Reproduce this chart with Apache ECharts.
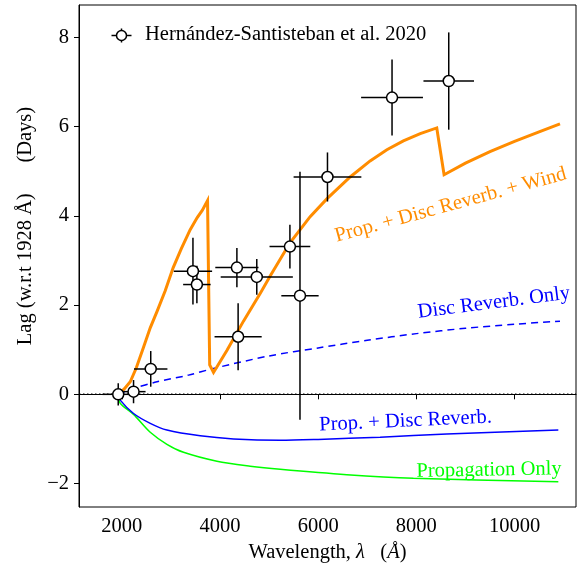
<!DOCTYPE html>
<html>
<head>
<meta charset="utf-8">
<script src="https://cdn.jsdelivr.net/npm/echarts@6/dist/echarts.min.js"></script>
<style>
  html, body { margin: 0; padding: 0; background: #ffffff; }
  #chart { width: 587px; height: 569px; }
</style>
</head>
<body>
<div id="chart"></div>
<script>
// Observed continuum lags (Hernández-Santisteban et al. 2020)
const obsWave    = [1928, 2240, 2590, 3450, 3530, 4345, 4750, 4370, 5425, 5630, 6190, 7505, 8660];
const obsLag     = [0.00, 0.06, 0.57, 2.76, 2.46, 2.84, 2.63, 1.29, 3.31, 2.21, 4.87, 6.65, 7.02];
const obsWaveErr = [320, 245, 340, 390, 280, 440, 735, 480, 415, 380, 690, 630, 515];
const obsLagErr  = [0.25, 0.26, 0.40, 0.75, 0.42, 0.44, 0.40, 0.75, 0.49, 2.78, 0.55, 0.85, 1.09];

// Model: propagation + disc reverberation + wind
const windWave = [1928, 2051, 2173, 2295, 2438, 2580, 2723, 2885, 3048, 3211, 3394, 3537, 3639, 3747,
                  3791, 3869, 4141, 4479, 4819, 5023, 5430, 5837, 6177, 6652, 7059, 7400, 7736, 8080, 8416,
                  8565, 9000, 9500, 10000, 10500, 10926];
const windLag  = [0.00, 0.12, 0.28, 0.59, 1.04, 1.49, 1.87, 2.32, 2.84, 3.26, 3.69, 3.96, 4.12, 4.34,
                  0.66, 0.49, 0.98, 1.64, 2.26, 2.65, 3.40, 3.98, 4.38, 4.87, 5.23, 5.48, 5.68, 5.84, 5.97,
                  4.92, 5.18, 5.44, 5.67, 5.88, 6.06];

// Model: disc reverberation only
const discWave = [1928, 2240, 2717, 3360, 3869, 5000, 6000, 7000, 8000, 9000, 10000, 10926];
const discLag  = [0.00, 0.13, 0.28, 0.43, 0.58, 0.86, 1.04, 1.21, 1.36, 1.48, 1.57, 1.64];

// Model: propagation + disc reverberation
const propDiscWave = [1928, 1969, 2240, 2580, 2920, 3598, 4276, 5226, 6000, 7262, 8620, 10892];
const propDiscLag  = [0.00, -0.13, -0.43, -0.65, -0.80, -0.93, -1.00, -1.03, -1.01, -0.96, -0.89, -0.80];

// Model: propagation only
const propWave = [1928, 1969, 2240, 2580, 2920, 3258, 3938, 4616, 5226, 6584, 7940, 10892];
const propLag  = [0.00, -0.20, -0.45, -0.85, -1.12, -1.30, -1.50, -1.61, -1.68, -1.80, -1.88, -1.96];

// Axis ticks
const xTicks = [2000, 4000, 6000, 8000, 10000];
const yTicks = [-2, 0, 2, 4, 6, 8];
const xRange = [1129, 11252];
const yRange = [-2.525, 8.724];

// Curve annotations: [wavelength, lag, angle in degrees]
const noteText  = ['Prop. + Disc Reverb. + Wind', 'Disc Reverb. Only', 'Prop. + Disc Reverb.', 'Propagation Only'];
const noteAt    = [[8700, 4.24, 15.3], [9580, 2.05, 7.2], [7781, -0.60, 2.7], [9481, -1.70, 1.0]];
const noteColor = ['#ff8c00', '#0000ff', '#0000ff', '#00ff00'];

const FONT = '"Liberation Serif", "Times New Roman", serif';
const FS = 20.5;

const zip = (xs, ys) => xs.map((x, i) => [x, ys[i]]);

const chart = echarts.init(document.getElementById('chart'), null, { renderer: 'canvas' });

const option = {
  animation: false,
  backgroundColor: '#ffffff',
  grid: { left: 79, top: 5, right: 11, bottom: 62, show: true, borderColor: '#000', borderWidth: 1, backgroundColor: 'transparent' },
  xAxis: {
    type: 'value', min: xRange[0], max: xRange[1],
    axisLine: { lineStyle: { color: '#000', width: 1 } },
    axisTick: { customValues: xTicks, length: 5, lineStyle: { color: '#000', width: 1 } },
    axisLabel: { customValues: xTicks, color: '#000', fontFamily: FONT, fontSize: FS, margin: 9, formatter: v => String(v) },
    splitLine: { show: false },
    name: '{n|Wavelength, }{i|λ}{n|   (}{i|Å}{n|)}',
    nameLocation: 'middle', nameGap: 44,
    nameTextStyle: {
      verticalAlign: 'middle',
      rich: {
        n: { fontFamily: FONT, fontSize: FS, color: '#000' },
        i: { fontFamily: FONT, fontSize: FS, fontStyle: 'italic', color: '#000' }
      }
    }
  },
  yAxis: {
    type: 'value', min: yRange[0], max: yRange[1],
    axisLine: { lineStyle: { color: '#000', width: 1 } },
    axisTick: { customValues: yTicks, length: 5, lineStyle: { color: '#000', width: 1 } },
    axisLabel: {
      customValues: yTicks, color: '#000', fontFamily: FONT, fontSize: FS, margin: 10,
      formatter: v => (v < 0 ? '\u2212' + Math.abs(v) : String(v))
    },
    splitLine: { show: false },
    name: 'Lag (w.r.t 1928 Å)      (Days)',
    nameLocation: 'middle', nameGap: 52,
    nameTextStyle: { fontFamily: FONT, fontSize: FS, color: '#000', verticalAlign: 'middle', padding: [0, 0, 0, 60] }
  },
  series: [
    {
      type: 'line', name: 'zero', data: [[xRange[0], 0], [xRange[1], 0]],
      symbol: 'none', silent: true, z: 1,
      lineStyle: { color: '#000', width: 1.5, type: [1.5, 2.5] }
    },
    {
      type: 'line', name: 'Propagation Only', data: zip(propWave, propLag),
      symbol: 'none', smooth: 0.3, z: 2, lineStyle: { color: '#00ff00', width: 1.5 }
    },
    {
      type: 'line', name: 'Prop. + Disc Reverb.', data: zip(propDiscWave, propDiscLag),
      symbol: 'none', smooth: 0.3, z: 2, lineStyle: { color: '#0000ff', width: 1.5 }
    },
    {
      type: 'line', name: 'Disc Reverb. Only', data: zip(discWave, discLag),
      symbol: 'none', smooth: 0.3, z: 2, lineStyle: { color: '#0000ff', width: 1.5, type: [7, 5] }
    },
    {
      type: 'line', name: 'Prop. + Disc Reverb. + Wind', data: zip(windWave, windLag),
      symbol: 'none', z: 3, lineStyle: { color: '#ff8c00', width: 3, join: 'miter' }
    },
    {
      type: 'custom', name: 'errorbars', z: 4,
      data: obsWave.map((w, i) => [w, obsLag[i], obsWaveErr[i], obsLagErr[i]]),
      renderItem: (params, api) => {
        const x = api.value(0), y = api.value(1), ex = api.value(2), ey = api.value(3);
        const l = api.coord([x - ex, y]), r = api.coord([x + ex, y]);
        const t = api.coord([x, y + ey]), b = api.coord([x, y - ey]);
        const st = { stroke: '#000', lineWidth: 1.5 };
        return {
          type: 'group',
          children: [
            { type: 'line', shape: { x1: l[0], y1: l[1], x2: r[0], y2: r[1] }, style: st },
            { type: 'line', shape: { x1: t[0], y1: t[1], x2: b[0], y2: b[1] }, style: st }
          ]
        };
      }
    },
    {
      type: 'scatter', name: 'Hernández-Santisteban et al. 2020', z: 5,
      data: zip(obsWave, obsLag), symbol: 'circle', symbolSize: 11,
      itemStyle: { color: '#fff', borderColor: '#000', borderWidth: 1.5, opacity: 1 }
    },
    {
      type: 'custom', name: 'notes', z: 6, silent: true,
      data: noteAt.map((p, i) => [p[0], p[1], p[2], i]),
      renderItem: (params, api) => {
        const p = api.coord([api.value(0), api.value(1)]);
        const i = api.value(3);
        return {
          type: 'text', x: p[0], y: p[1], rotation: api.value(2) * Math.PI / 180,
          style: {
            text: noteText[i], fill: noteColor[i], fontFamily: FONT, fontSize: FS,
            align: 'center', verticalAlign: 'middle'
          }
        };
      }
    }
  ],
  graphic: [
    {
      type: 'group', left: 109, top: 26,
      children: [
        { type: 'line', shape: { x1: 0, y1: 7, x2: 20, y2: 7 }, style: { stroke: '#000', lineWidth: 1.5 } },
        { type: 'line', shape: { x1: 10, y1: 0, x2: 10, y2: 14 }, style: { stroke: '#000', lineWidth: 1.5 } },
        { type: 'circle', shape: { cx: 10, cy: 7, r: 5 }, style: { fill: '#fff', stroke: '#000', lineWidth: 1.5 } }
      ]
    },
    {
      type: 'text', left: 145, top: 24,
      style: { text: 'Hernández-Santisteban et al. 2020', fill: '#000', fontFamily: FONT, fontSize: FS }
    }
  ]
};

chart.setOption(option);
</script>
</body>
</html>
